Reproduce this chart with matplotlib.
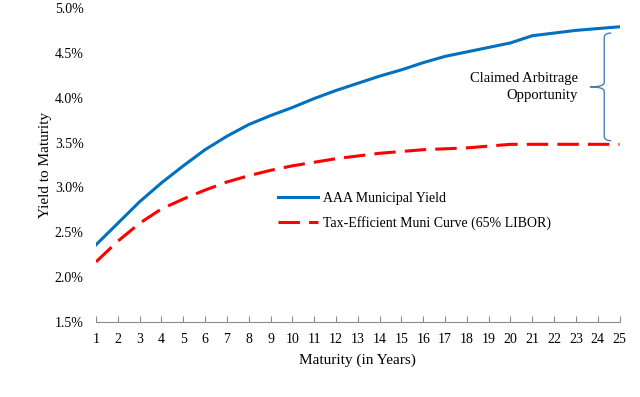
import numpy as np
import matplotlib
matplotlib.use('Agg')
import matplotlib.pyplot as plt
from matplotlib.path import Path
from matplotlib.patches import PathPatch
from matplotlib.ticker import FuncFormatter

plt.rcParams['font.family'] = ['Liberation Serif', 'DejaVu Serif']

maturity = list(range(1, 26))
aaa_yield = [2.36, 2.60, 2.84, 3.05, 3.24, 3.42, 3.57, 3.70, 3.80, 3.89,
             3.99, 4.08, 4.16, 4.24, 4.31, 4.39, 4.46, 4.51, 4.56, 4.61,
             4.69, 4.72, 4.75, 4.77, 4.79]
tax_eff = [2.17, 2.40, 2.60, 2.76, 2.87, 2.97, 3.06, 3.13, 3.19, 3.24,
           3.28, 3.32, 3.35, 3.38, 3.40, 3.42, 3.43, 3.44, 3.46, 3.48,
           3.48, 3.48, 3.48, 3.48, 3.48]

fig = plt.figure(figsize=(6.4, 3.97), dpi=100)
ax = fig.add_axes([0.15, 0.189, 0.818, 0.791])

ax.plot(maturity, aaa_yield, color='#0070c0', lw=2.2, label='AAA Municipal Yield')
ax.plot(maturity, tax_eff, color='#ff0000', lw=2.2, dashes=(7, 3),
        label='Tax-Efficient Muni Curve (65% LIBOR)')

ax.set_xlim(1, 25)
ax.set_ylim(1.5, 5.0)
ax.set_xticks(maturity)
ax.set_yticks(np.arange(1.5, 5.01, 0.5))
ax.yaxis.set_major_formatter(FuncFormatter(lambda v, p: f'{v:.1f}%'))
for s in ['top', 'right', 'left']:
    ax.spines[s].set_visible(False)
ax.spines['bottom'].set_color('#8c8c8c')
ax.tick_params(axis='x', direction='in', length=4, color='#8c8c8c', labelsize=10, pad=8)
ax.tick_params(axis='y', length=0, labelsize=10, pad=9)
ax.set_xlabel('Maturity (in Years)', fontsize=11, labelpad=5)
ax.set_ylabel('Yield to Maturity', fontsize=11)
ax.yaxis.set_label_coords(-0.085, 0.5)

ax.legend(loc='upper left', bbox_to_anchor=(0.348, 0.415), frameon=False,
          fontsize=10, handlelength=2.9, handletextpad=0.3, labelspacing=0.8,
          borderpad=0, borderaxespad=0)

# curly brace annotation
xv, xt, xe = 24.30, 23.66, 24.62
yt, ym, yb = 4.72, 4.12, 3.52
d = 0.05
verts = [(xe, yt), (xv, yt), (xv, yt - d),
         (xv, ym + d),
         (xv, ym), (xt, ym), (xv, ym), (xv, ym - d),
         (xv, yb + d),
         (xv, yb), (xe, yb)]
codes = [Path.MOVETO, Path.CURVE3, Path.CURVE3,
         Path.LINETO,
         Path.CURVE3, Path.CURVE3, Path.CURVE3, Path.CURVE3,
         Path.LINETO,
         Path.CURVE3, Path.CURVE3]
ax.add_patch(PathPatch(Path(verts, codes), fill=False, ec='#4a7ebb', lw=1.0))
ax.text(23.08, 4.12, 'Claimed Arbitrage\nOpportunity', ha='right', va='center',
        fontsize=10.5, linespacing=1.35)

fig.savefig('out.png', dpi=100)
